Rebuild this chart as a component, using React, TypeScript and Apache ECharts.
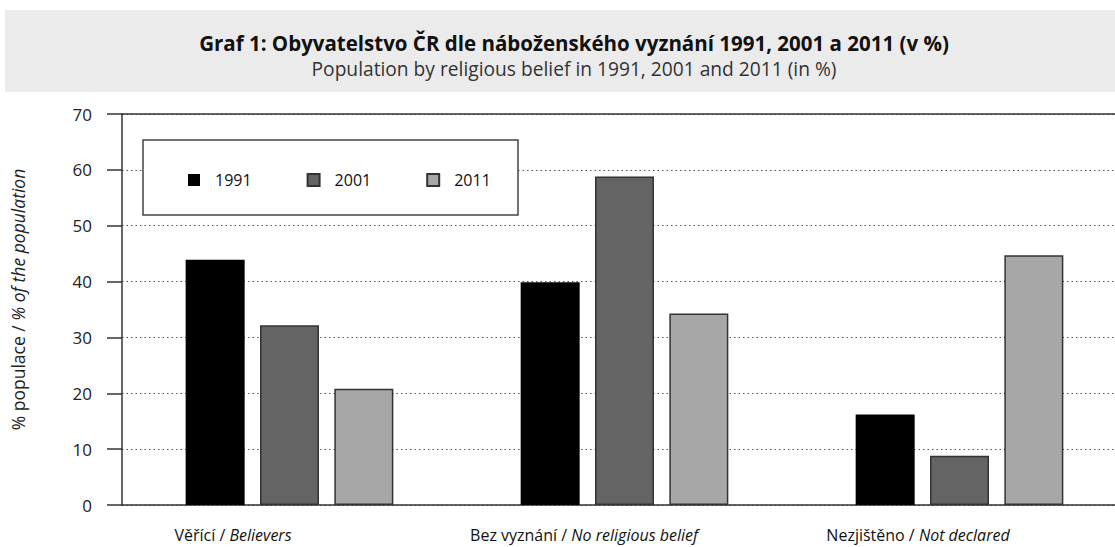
import React, { useEffect, useRef } from "react";
import * as echarts from "echarts";

const categoriesCz = ["Věřící", "Bez vyznání", "Nezjištěno"];
const categoriesEn = ["Believers", "No religious belief", "Not declared"];
const years = ["1991", "2001", "2011"];
const values1991 = [43.9, 39.9, 16.2];
const values2001 = [32.2, 58.8, 8.8];
const values2011 = [20.8, 34.3, 44.7];
const yearColors = ["#000000", "#646464", "#a7a7a7"];
const yTicks = [0, 10, 20, 30, 40, 50, 60, 70];
const labelShift = [113, 81, 83];

const FONT = "Open Sans";

export default function App() {
  const ref = useRef<HTMLDivElement>(null);
  useEffect(() => {
    if (!ref.current) return;
    const chart = echarts.init(ref.current, null, { renderer: "svg" });
    const seriesData = [values1991, values2001, values2011];
    const option: any = {
      animation: false,
      backgroundColor: "#ffffff",
      textStyle: { fontFamily: FONT },
      title: {
        left: 569,
        top: 27,
        textAlign: "center",
        text: "Graf 1: Obyvatelstvo ČR dle náboženského vyznání 1991, 2001 a 2011 (v %)",
        subtext: "Population by religious belief in 1991, 2001 and 2011 (in %)",
        itemGap: 6,
        textStyle: { fontFamily: FONT, fontSize: 20.5, fontWeight: "bold", color: "#111" },
        subtextStyle: { fontFamily: FONT, fontSize: 19.2, color: "#333" },
        z: 10,
      },
      graphic: [
        {
          type: "rect",
          shape: { x: 5, y: 10, width: 1130, height: 82 },
          style: { fill: "#ebebeb" },
          z: 0,
          silent: true,
        },
        {
          type: "rect",
          shape: { x: 143, y: 140, width: 375, height: 75 },
          style: { fill: "#ffffff", stroke: "#444", lineWidth: 1.5 },
          z: 3,
          silent: true,
        },
      ],
      legend: {
        data: years,
        left: 183,
        top: 167,
        itemWidth: 12,
        itemHeight: 12,
        itemGap: 55,
        icon: "rect",
        z: 6,
        textStyle: {
          fontFamily: FONT,
          fontSize: 16,
          color: "#111",
          padding: [0, 0, 0, 10],
        },
      },
      grid: { left: 122, right: 3, top: 114, bottom: 42, containLabel: false },
      xAxis: {
        type: "category",
        data: categoriesCz.map((c, i) => ({
          value: c + "|" + categoriesEn[i],
          textStyle: { padding: [0, labelShift[i], 0, 0] },
        })),
        axisLine: { show: true, lineStyle: { color: "#333", width: 1.5 } },
        axisTick: { show: false },
        axisLabel: {
          margin: 22,
          formatter: (v: string) => {
            const [cz, en] = v.split("|");
            return "{n|" + cz + " / }{i|" + en + "}";
          },
          rich: {
            n: { fontFamily: FONT, fontSize: 16, color: "#111" },
            i: { fontFamily: FONT, fontSize: 16, color: "#111", fontStyle: "italic" },
          },
        },
      },
      yAxis: {
        type: "value",
        min: yTicks[0],
        max: yTicks[yTicks.length - 1],
        interval: 10,
        name: "{n|% populace / }{i|% of the population}",
        nameLocation: "middle",
        nameGap: 95,
        nameTextStyle: {
          padding: [0, 0, 0, 20],
          rich: {
            n: { fontFamily: FONT, fontSize: 17.5, color: "#222" },
            i: { fontFamily: FONT, fontSize: 17.5, color: "#222", fontStyle: "italic" },
          },
        },
        axisLine: { show: true, lineStyle: { color: "#333", width: 1.5 } },
        axisTick: { show: true, length: 15, lineStyle: { color: "#333", width: 1.5 } },
        axisLabel: { fontFamily: FONT, fontSize: 17, color: "#222", margin: 30 },
        splitLine: {
          show: true,
          lineStyle: { color: "#555", type: [1.5, 3], width: 1 },
        },
      },
      series: years.map((y, i) => ({
        name: y,
        type: "bar",
        data: seriesData[i],
        barWidth: 59,
        barGap: "26%",
        itemStyle: {
          color: yearColors[i],
          borderColor: "#333",
          borderWidth: i === 0 ? 0 : 1.5,
        },
        z: 4,
        markLine:
          i === 0
            ? {
                silent: true,
                symbol: "none",
                label: { show: false },
                lineStyle: { color: "#333", type: "solid", width: 1.5 },
                data: [{ yAxis: yTicks[yTicks.length - 1] }],
              }
            : undefined,
      })),
    };
    chart.setOption(option);
    return () => chart.dispose();
  }, []);
  return (
    <div
      style={{ position: "absolute", left: 0, top: 0, width: 1115, height: 547, overflow: "hidden" }}
    >
      <div ref={ref} style={{ width: 1130, height: 547 }} />
    </div>
  );
}
